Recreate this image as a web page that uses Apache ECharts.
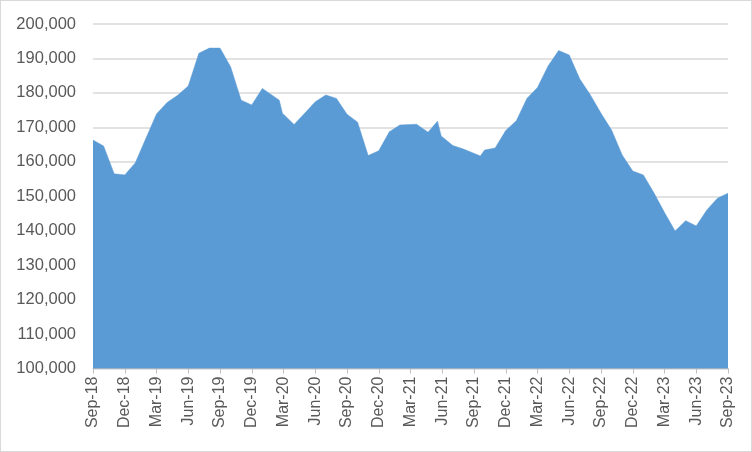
<!DOCTYPE html>
<html>
<head>
<meta charset="utf-8">
<script src="https://cdn.jsdelivr.net/npm/echarts@6/dist/echarts.min.js"></script>
<style>
  html, body { margin: 0; padding: 0; background: #fff; }
  #frame { width: 752px; height: 452px; box-sizing: border-box; border: 1px solid #d9d9d9; position: relative; }
  #chart { position: absolute; left: -1px; top: -1px; width: 752px; height: 452px; }
</style>
</head>
<body>
<div id="frame"><div id="chart"></div></div>
<script>
// Months elapsed since Sep-2018 (fractional where the observation fell mid-month)
const months = [0, 1, 2, 3, 4, 5, 6, 7, 8, 9, 10, 11, 12, 13, 14, 15, 16, 17.6, 17.9, 19, 20, 21, 22, 23, 24, 25, 26, 27, 28, 29, 30.57, 31.66, 32.55, 32.9, 34, 35, 36.6, 37, 38, 39, 40, 41, 42, 43, 44, 45, 46, 47, 48, 49, 50, 51, 52, 53, 54, 55, 56, 57, 58, 59, 60];
const values = [166300, 164600, 156500, 156200, 159700, 166800, 173900, 177200, 179300, 182000, 191500, 193000, 193000, 187600, 177900, 176500, 181300, 177900, 174100, 170800, 174100, 177400, 179400, 178400, 173800, 171500, 161800, 163200, 168700, 170700, 170900, 168600, 171800, 167500, 164700, 163700, 161700, 163400, 164000, 169100, 171900, 178400, 181600, 187800, 192300, 191000, 184000, 179400, 174100, 169200, 162000, 157300, 156200, 151000, 145300, 139900, 142900, 141400, 146000, 149400, 150900];
const tickLabels = ['Sep-18', 'Dec-18', 'Mar-19', 'Jun-19', 'Sep-19', 'Dec-19', 'Mar-20', 'Jun-20', 'Sep-20', 'Dec-20', 'Mar-21', 'Jun-21', 'Sep-21', 'Dec-21', 'Mar-22', 'Jun-22', 'Sep-22', 'Dec-22', 'Mar-23', 'Jun-23', 'Sep-23'];

const chart = echarts.init(document.getElementById('chart'), null, { renderer: 'canvas' });
const font = 'Liberation Sans, Arial, sans-serif';
chart.setOption({
  animation: false,
  backgroundColor: 'transparent',
  grid: { left: 93, right: 24, top: 24, bottom: 83.5, containLabel: false },
  xAxis: {
    type: 'value',
    min: 0,
    max: (tickLabels.length - 1) * 3,
    interval: 3,
    axisLine: { show: true, lineStyle: { color: '#bfbfbf', width: 1 } },
    axisTick: { show: true, length: 5, lineStyle: { color: '#bfbfbf' } },
    splitLine: { show: false },
    axisLabel: {
      rotate: 90,
      color: '#595959',
      fontFamily: font,
      fontSize: 16,
      margin: 8,
      formatter: v => tickLabels[Math.round(v / 3)] || ''
    }
  },
  yAxis: {
    type: 'value',
    min: 100000,
    max: 200000,
    interval: 10000,
    axisLine: { show: false },
    axisTick: { show: false },
    splitLine: { show: true, lineStyle: { color: '#d9d9d9', width: 1.5 } },
    axisLabel: {
      color: '#595959',
      fontFamily: font,
      fontSize: 16.5,
      margin: 17,
      formatter: v => v.toLocaleString('en-US')
    }
  },
  series: [{
    type: 'line',
    data: months.map((m, i) => [m, values[i]]),
    symbol: 'none',
    smooth: false,
    lineStyle: { color: '#5b9bd5', width: 0.5 },
    areaStyle: { color: '#5b9bd5', opacity: 1, origin: 'start' },
    z: 3
  }]
});
</script>
</body>
</html>
